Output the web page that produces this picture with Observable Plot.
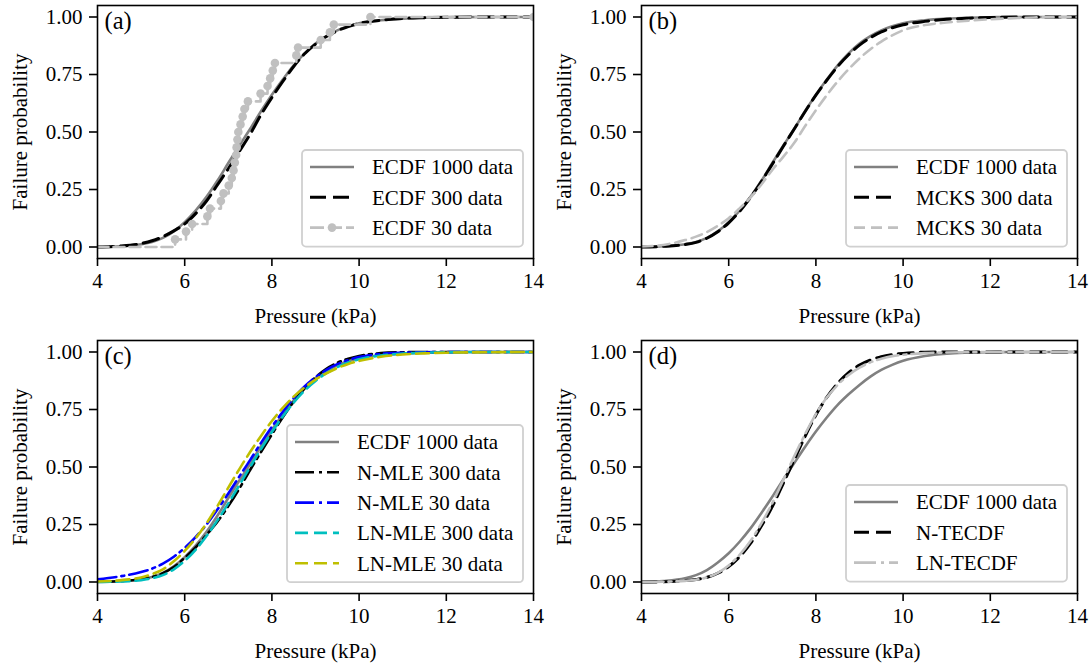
<!DOCTYPE html>
<html>
<head>
<meta charset="utf-8">
<script src="https://cdn.jsdelivr.net/npm/d3@7"></script>
<script src="https://cdn.jsdelivr.net/npm/@observablehq/plot@0.6"></script>
<style>
  body { margin: 0; background: #fff; font-family: 'Liberation Serif', 'DejaVu Serif', serif; }
  #wrap { position: relative; width: 1091px; height: 663px; overflow: hidden; background: #fff; }
  .panel { position: absolute; }
  .panel svg { display: block; overflow: visible; font-family: 'Liberation Serif', 'DejaVu Serif', serif !important; }
  .panel svg text { font-family: 'Liberation Serif', 'DejaVu Serif', serif !important; }
</style>
</head>
<body>
<div id="wrap"></div>
<script>
// ---------- data ----------
const pressureGrid = [4, 4.5, 5, 5.25, 5.5, 5.75, 6, 6.25, 6.5, 6.75, 7, 7.25, 7.5, 7.75, 8, 8.25, 8.5, 8.75, 9, 9.25, 9.5, 9.75, 10, 10.5, 11, 11.5, 12, 13, 14];

const ecdf1000   = [0, 0.003, 0.012, 0.022, 0.040, 0.068, 0.108, 0.158, 0.218, 0.288, 0.365, 0.440, 0.513, 0.590, 0.662, 0.728, 0.790, 0.842, 0.885, 0.917, 0.942, 0.960, 0.973, 0.986, 0.993, 0.997, 0.999, 1, 1];
const ecdf300    = [0, 0.004, 0.015, 0.027, 0.045, 0.070, 0.100, 0.145, 0.200, 0.270, 0.340, 0.415, 0.490, 0.575, 0.650, 0.720, 0.785, 0.840, 0.882, 0.915, 0.940, 0.958, 0.972, 0.986, 0.994, 0.997, 0.999, 1, 1];
const mcks300    = [0, 0.003, 0.011, 0.020, 0.038, 0.066, 0.105, 0.155, 0.215, 0.285, 0.360, 0.437, 0.512, 0.588, 0.660, 0.725, 0.785, 0.836, 0.878, 0.910, 0.935, 0.953, 0.966, 0.981, 0.990, 0.995, 0.998, 1, 1];
const mcks30     = [0.002, 0.009, 0.030, 0.045, 0.065, 0.092, 0.125, 0.168, 0.215, 0.272, 0.335, 0.392, 0.452, 0.525, 0.595, 0.660, 0.720, 0.773, 0.820, 0.860, 0.893, 0.920, 0.942, 0.965, 0.976, 0.984, 0.990, 0.998, 1];
const nMle300    = [0.001, 0.004, 0.012, 0.022, 0.038, 0.065, 0.105, 0.150, 0.205, 0.262, 0.330, 0.405, 0.487, 0.565, 0.642, 0.716, 0.784, 0.842, 0.890, 0.927, 0.953, 0.971, 0.983, 0.995, 0.999, 1, 1, 1, 1];
const nMle30     = [0.012, 0.024, 0.043, 0.058, 0.080, 0.110, 0.148, 0.195, 0.250, 0.315, 0.385, 0.458, 0.530, 0.605, 0.675, 0.740, 0.800, 0.850, 0.890, 0.922, 0.947, 0.965, 0.978, 0.992, 0.997, 0.999, 1, 1, 1];
const lnMle300   = [0, 0.002, 0.008, 0.016, 0.030, 0.055, 0.092, 0.140, 0.200, 0.268, 0.342, 0.420, 0.500, 0.578, 0.652, 0.720, 0.780, 0.832, 0.874, 0.908, 0.934, 0.954, 0.968, 0.985, 0.993, 0.997, 0.999, 1, 1];
const lnMle30    = [0.002, 0.007, 0.020, 0.034, 0.055, 0.090, 0.135, 0.190, 0.255, 0.330, 0.410, 0.490, 0.565, 0.635, 0.700, 0.757, 0.806, 0.846, 0.880, 0.907, 0.930, 0.948, 0.961, 0.979, 0.989, 0.994, 0.997, 0.999, 1];
const ecdf1000d  = [0, 0.004, 0.016, 0.030, 0.052, 0.085, 0.125, 0.175, 0.233, 0.300, 0.371, 0.445, 0.516, 0.587, 0.654, 0.715, 0.770, 0.816, 0.857, 0.893, 0.922, 0.944, 0.962, 0.983, 0.993, 0.997, 0.999, 1, 1];
const nTecdf     = [0, 0.001, 0.006, 0.011, 0.020, 0.038, 0.067, 0.110, 0.168, 0.243, 0.328, 0.428, 0.530, 0.632, 0.726, 0.803, 0.864, 0.910, 0.943, 0.965, 0.980, 0.989, 0.994, 0.999, 1, 1, 1, 1, 1];
const lnTecdf    = [0, 0.001, 0.005, 0.010, 0.020, 0.040, 0.072, 0.118, 0.178, 0.255, 0.343, 0.443, 0.545, 0.642, 0.730, 0.802, 0.857, 0.900, 0.932, 0.955, 0.971, 0.982, 0.988, 0.995, 0.998, 0.999, 1, 1, 1];

// 30-sample ECDF (step points)
const ecdf30Pressure = [5.78, 6.03, 6.17, 6.52, 6.58, 6.83, 6.89, 7.01, 7.08, 7.12, 7.15, 7.18, 7.19, 7.21, 7.23, 7.28, 7.33, 7.37, 7.45, 7.74, 7.90, 7.96, 8.02, 8.07, 8.56, 8.60, 9.12, 9.33, 9.42, 10.26];
const ecdf30Prob     = [0.033, 0.067, 0.100, 0.133, 0.167, 0.200, 0.233, 0.267, 0.300, 0.333, 0.367, 0.400, 0.433, 0.467, 0.500, 0.533, 0.567, 0.600, 0.633, 0.667, 0.700, 0.733, 0.767, 0.800, 0.833, 0.867, 0.900, 0.933, 0.967, 1.000];

const xTicks = [4, 6, 8, 10, 12, 14];
const yTicks = [0, 0.25, 0.5, 0.75, 1];
const yTickLabels = ["0.00", "0.25", "0.50", "0.75", "1.00"];
const panelLetters = ["(a)", "(b)", "(c)", "(d)"];
const xLabel = "Pressure (kPa)";
const yLabel = "Failure probability";

// ---------- helpers ----------
const FONT = "'Liberation Serif', 'DejaVu Serif', serif";
const GRAY = "#808080", SILVER = "#c0c0c0";
const toRows = ys => pressureGrid.map((x, i) => ({x, y: ys[i]}));
const ecdf30Rows = [{x: 4, y: 0}, ...ecdf30Pressure.map((x, i) => ({x, y: ecdf30Prob[i], m: true})), {x: 14, y: 1, m: true}];

function makePanel(cfg) {
  const marks = [];
  for (const s of cfg.series) {
    marks.push(Plot.line(s.rows, {
      x: "x", y: "y", stroke: s.color, strokeWidth: s.width,
      strokeDasharray: s.dash || null, curve: s.curve || "monotone-x", clip: true
    }));
    if (s.marker) {
      marks.push(Plot.dot(s.rows.filter(d => d.m), {x: "x", y: "y", r: 4.3, fill: s.color, stroke: "none", clip: true}));
    }
  }
  marks.push(Plot.frame({stroke: "black", strokeWidth: 1.6}));
  marks.push(Plot.axisX({
    ticks: xTicks, tickSize: 8, tickPadding: 7, fontSize: 21, strokeWidth: 1.6,
    label: xLabel, labelAnchor: "center", labelArrow: "none", labelOffset: 64
  }));
  marks.push(Plot.axisY({
    ticks: yTicks, tickFormat: d => yTickLabels[yTicks.indexOf(d)], tickSize: 8, tickPadding: 7,
    fontSize: 21, strokeWidth: 1.6,
    label: yLabel, labelAnchor: "center", labelArrow: "none", labelOffset: 85
  }));
  marks.push(Plot.text([cfg.letter], {
    text: d => d, frameAnchor: "top-left", dx: 7, dy: 6, fontSize: 24.5,
    textAnchor: "start", lineAnchor: "top", fill: "black"
  }));

  const svg = Plot.plot({
    width: cfg.w, height: cfg.h,
    marginLeft: cfg.ml, marginRight: cfg.mr, marginTop: cfg.mt, marginBottom: cfg.mb,
    style: {fontFamily: FONT, fontSize: "21px", background: "transparent", color: "black"},
    x: {domain: [4, 14]},
    y: {domain: [-0.05, 1.05]},
    marks
  });

  // legend (drawn on top of the plot area)
  const L = cfg.legend;
  const n = cfg.series.length;
  const g = d3.select(svg).append("g")
    .attr("font-family", FONT).attr("font-size", 21).attr("text-anchor", "start");
  const boxH = 36 + (n - 1) * 30.3;
  g.append("rect")
    .attr("x", L.x).attr("y", L.y).attr("width", L.w).attr("height", boxH)
    .attr("rx", 4).attr("ry", 4)
    .attr("fill", "white").attr("fill-opacity", 0.8)
    .attr("stroke", "#d0d0d0").attr("stroke-width", 1.8);
  cfg.series.forEach((s, i) => {
    const cy = L.y + 17 + i * 30.3;
    g.append("line")
      .attr("x1", L.x + 8).attr("x2", L.x + 52).attr("y1", cy).attr("y2", cy)
      .attr("stroke", s.color).attr("stroke-width", s.width)
      .attr("stroke-dasharray", s.legendDash || s.dash || null);
    if (s.marker) {
      g.append("circle").attr("cx", L.x + 30).attr("cy", cy).attr("r", 4.3).attr("fill", s.color);
    }
    g.append("text")
      .attr("x", L.x + 70).attr("y", cy).attr("dy", "0.35em")
      .attr("text-anchor", "start")
      .attr("fill", "black").text(s.label);
  });

  const div = document.createElement("div");
  div.className = "panel";
  div.style.left = cfg.left + "px";
  div.style.top = cfg.top + "px";
  div.appendChild(svg);
  document.getElementById("wrap").appendChild(div);
}

const topGeom = {top: 0, h: 331, mt: 5, mb: 73};
const botGeom = {top: 331, h: 332, mt: 9, mb: 70};
const leftGeom = {left: 0, w: 545, ml: 97, mr: 12};
const rightGeom = {left: 545, w: 546, ml: 96, mr: 14};

makePanel({
  ...topGeom, ...leftGeom, letter: panelLetters[0],
  legend: {x: 302, y: 150, w: 221},
  series: [
    {label: "ECDF 1000 data", rows: toRows(ecdf1000), color: GRAY, width: 2.6},
    {label: "ECDF 300 data", rows: toRows(ecdf300), color: "black", width: 3, dash: "16,7"},
    {label: "ECDF 30 data", rows: ecdf30Rows, color: SILVER, width: 2.6, dash: "11,5", curve: "step-after", marker: true, legendDash: "14,4"}
  ]
});

makePanel({
  ...topGeom, ...rightGeom, letter: panelLetters[1],
  legend: {x: 301, y: 150, w: 221},
  series: [
    {label: "ECDF 1000 data", rows: toRows(ecdf1000), color: GRAY, width: 2.6},
    {label: "MCKS 300 data", rows: toRows(mcks300), color: "black", width: 3, dash: "15,7"},
    {label: "MCKS 30 data", rows: toRows(mcks30), color: SILVER, width: 2.6, dash: "11,6"}
  ]
});

makePanel({
  ...botGeom, ...leftGeom, letter: panelLetters[2],
  legend: {x: 287, y: 94, w: 236},
  series: [
    {label: "ECDF 1000 data", rows: toRows(ecdf1000), color: GRAY, width: 2.6},
    {label: "N-MLE 300 data", rows: toRows(nMle300), color: "black", width: 2.6, dash: "19,5,3,5"},
    {label: "N-MLE 30 data", rows: toRows(nMle30), color: "#0000ff", width: 2.6, dash: "19,5,3,5"},
    {label: "LN-MLE 300 data", rows: toRows(lnMle300), color: "#00bfbf", width: 2.6, dash: "13,6"},
    {label: "LN-MLE 30 data", rows: toRows(lnMle30), color: "#bfbf00", width: 2.6, dash: "13,6"}
  ]
});

makePanel({
  ...botGeom, ...rightGeom, letter: panelLetters[3],
  legend: {x: 301, y: 154, w: 221},
  series: [
    {label: "ECDF 1000 data", rows: toRows(ecdf1000d), color: GRAY, width: 2.6},
    {label: "N-TECDF", rows: toRows(nTecdf), color: "black", width: 3, dash: "15,7"},
    {label: "LN-TECDF", rows: toRows(lnTecdf), color: SILVER, width: 2.6, dash: "22,5,3,5"}
  ]
});
</script>
</body>
</html>
